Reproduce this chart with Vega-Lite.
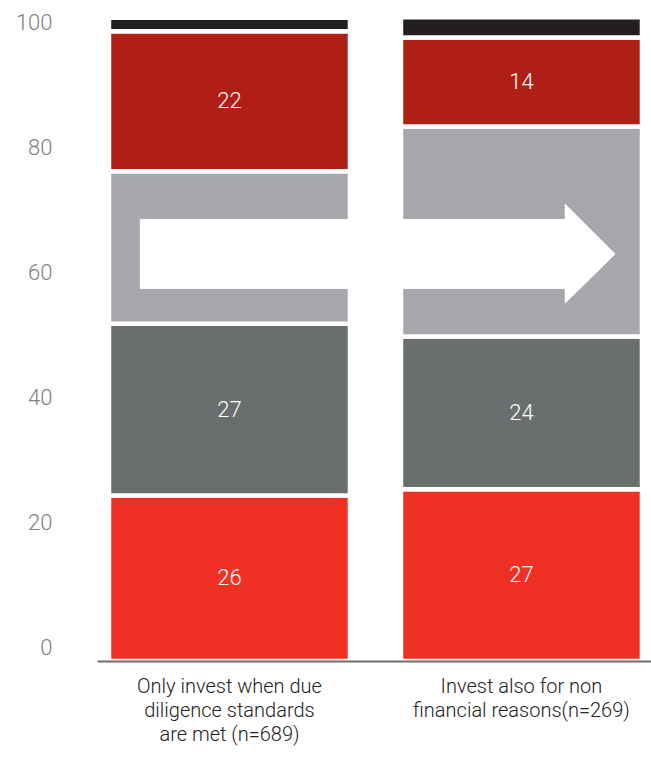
{
  "$schema": "https://vega.github.io/schema/vega-lite/v6.json",
  "autosize": "none",
  "width": 554,
  "height": 640,
  "padding": {"left": 97, "top": 21, "right": 0, "bottom": 99},
  "background": "white",
  "config": {"view": {"stroke": null}, "font": "Roboto"},
  "data": {
    "values": [
      {"group": "Only invest when due|diligence standards|are met (n=689)", "seg": "s1", "value": 26},
      {"group": "Only invest when due|diligence standards|are met (n=689)", "seg": "s2", "value": 27},
      {"group": "Only invest when due|diligence standards|are met (n=689)", "seg": "s3", "value": 24},
      {"group": "Only invest when due|diligence standards|are met (n=689)", "seg": "s4", "value": 22},
      {"group": "Only invest when due|diligence standards|are met (n=689)", "seg": "s5", "value": 2.1},
      {"group": "Invest also for non|financial reasons(n=269)", "seg": "s1", "value": 27},
      {"group": "Invest also for non|financial reasons(n=269)", "seg": "s2", "value": 24},
      {"group": "Invest also for non|financial reasons(n=269)", "seg": "s3", "value": 33},
      {"group": "Invest also for non|financial reasons(n=269)", "seg": "s4", "value": 14},
      {"group": "Invest also for non|financial reasons(n=269)", "seg": "s5", "value": 3.2}
    ]
  },
  "resolve": {"scale": {"y": "independent"}},
  "layer": [
    {
      "layer": [
        {
          "mark": {"type": "bar", "stroke": "white", "strokeWidth": 4.5},
          "encoding": {
            "x": {
              "field": "group", "type": "nominal", "sort": null,
              "scale": {"paddingInner": 0.1747, "paddingOuter": 0.036, "align": 0.57},
              "axis": {
                "title": null, "labelAngle": 0, "ticks": false, "tickSize": 0,
                "labelPadding": 15, "labelFontSize": 20, "labelFontWeight": 300,
                "labelFont": "Roboto", "labelColor": "#222222", "labelLineHeight": 24,
                "labelExpr": "split(datum.label, '|')", "zindex": 1,
                "domainColor": "#6f6f6f", "domainWidth": 2, "labelLimit": 400
              }
            },
            "y": {
              "field": "value", "type": "quantitative", "stack": "zero",
              "scale": {"domain": [0, 100.6], "nice": false, "zero": true},
              "axis": null
            },
            "order": {"field": "seg", "sort": "ascending"},
            "color": {
              "field": "seg", "type": "nominal",
              "scale": {"domain": ["s1", "s2", "s3", "s4", "s5"], "range": ["#EE3124", "#6B6E6E", "#A7A8AB", "#B01F16", "#231F20"]},
              "legend": null
            }
          }
        },
        {
          "transform": [
            {"stack": "value", "groupby": ["group"], "sort": [{"field": "seg", "order": "ascending"}], "as": ["v0", "v1"]},
            {"filter": "datum.seg != 's5'"},
            {"fold": ["v0", "v1"], "as": ["edge", "pos"]}
          ],
          "mark": {"type": "text", "color": "white", "fontSize": 22, "fontWeight": 300, "font": "Roboto", "baseline": "middle", "align": "center"},
          "encoding": {
            "x": {"field": "group", "type": "nominal", "sort": null},
            "y": {"aggregate": "mean", "field": "pos", "type": "quantitative"},
            "detail": {"field": "seg"},
            "text": {"field": "value", "type": "quantitative"}
          }
        },
        {
          "mark": {
            "type": "point", "filled": true, "color": "white", "opacity": 1, "strokeWidth": 0,
            "size": 225625,
            "shape": "M -0.3768 -0.1453 L 1.4126 -0.1453 L 1.4126 -0.2084 L 1.6232 0 L 1.4126 0.2084 L 1.4126 0.1453 L -0.3768 0.1453 Z"
          },
          "encoding": {
            "x": {"datum": "Only invest when due|diligence standards|are met (n=689)", "type": "nominal"},
            "y": {"datum": 64, "type": "quantitative"}
          }
        }
      ]
    },
    {
      "mark": {"type": "point", "opacity": 0},
      "encoding": {
        "x": {"field": "group", "type": "nominal", "sort": null},
        "y": {
          "field": "value", "type": "quantitative",
          "scale": {"domain": [-2.24, 100.16], "nice": false, "zero": false},
          "axis": {
            "orient": "left", "title": null, "values": [0, 20, 40, 60, 80, 100],
            "ticks": false, "tickSize": 0, "domain": false, "grid": false,
            "labelPadding": 45, "labelFontSize": 22, "labelFontWeight": 300,
            "labelFont": "Roboto", "labelColor": "#7f7f7f", "labelBaseline": "middle"
          }
        }
      }
    }
  ]
}
